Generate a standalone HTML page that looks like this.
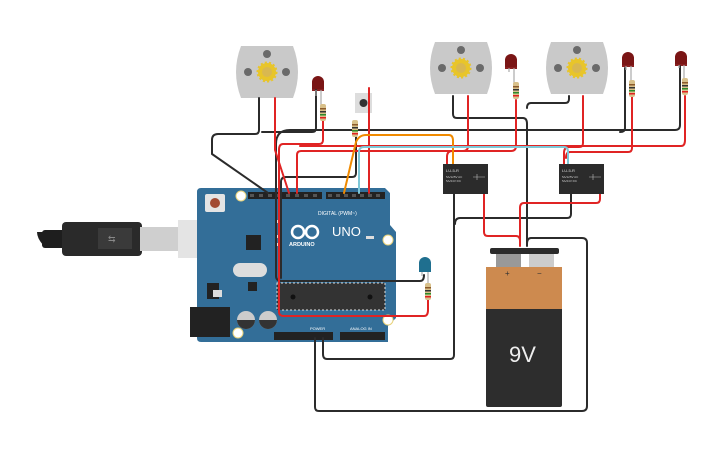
<!DOCTYPE html>
<html><head><meta charset="utf-8"><style>
html,body{margin:0;padding:0;background:#fff;width:725px;height:453px;overflow:hidden}
svg{display:block}
text{font-family:"Liberation Sans",sans-serif}
</style></head><body>
<svg width="725" height="453" viewBox="0 0 725 453" xmlns="http://www.w3.org/2000/svg">
<defs>
<g id="motor">
<path d="M8,0 H60 Q70,26 60,52 H8 Q-2,26 8,0Z" fill="#c9c9c9"/>
<circle cx="34" cy="8" r="4" fill="#6a6a6a"/>
<circle cx="15" cy="26" r="4" fill="#6a6a6a"/>
<circle cx="53" cy="26" r="4" fill="#6a6a6a"/>
<circle cx="34" cy="26" r="9" fill="#e8c52a" stroke="#e8c52a" stroke-width="3" stroke-dasharray="2 2"/>
<circle cx="34" cy="26" r="5" fill="#d9b850"/>
</g>
<g id="res">
<rect x="-3" y="0" width="6" height="17" rx="2" fill="#d8c08a"/>
<rect x="-3" y="4" width="6" height="1.5" fill="#8b5a2b"/>
<rect x="-3" y="7" width="6" height="1.5" fill="#333"/>
<rect x="-3" y="10" width="6" height="1.5" fill="#2a8a2a"/>
<rect x="-3" y="13" width="6" height="1.5" fill="#e02020"/>
</g>
<g id="led">
<path d="M-6,10 V2 A6,6 0 0 1 6,2 V10Z" fill="#7a1515"/>
<rect x="-6" y="9" width="12" height="2" fill="#8a2020"/>
</g>
<g id="relay">
<rect x="0" y="0" width="45" height="30" fill="#2b2b2b"/>
<text x="3" y="8" font-size="4" fill="#ddd">LU-5-R</text>
<text x="3" y="14" font-size="3" fill="#ccc">5A/125V AC</text>
<text x="3" y="18" font-size="3" fill="#ccc">5A/24V DC</text>
<path d="M30,13 H42 M34,10 V16" stroke="#bbb" stroke-width="0.6"/>
</g>
</defs>

<!-- USB cable -->
<path d="M37,232 Q37,238 43,245 L60,245 V232Z" fill="#1e1e1e"/>
<rect x="42" y="230" width="25" height="18" rx="3" fill="#1e1e1e"/>
<rect x="62" y="222" width="80" height="34" rx="4" fill="#2a2a2a"/>
<rect x="98" y="228" width="34" height="21" fill="#3a3a3a"/>
<text x="108" y="242" font-size="9" fill="#888">⇆</text>
<rect x="140" y="227" width="38" height="24" fill="#cfcfcf"/>
<rect x="178" y="220" width="52" height="38" fill="#e4e4e4"/>

<!-- Arduino board -->
<path d="M201,188 H385 L390,193 V225 L396,232 V318 L388,326 V342 H201 Q197,342 197,338 V192 Q197,188 201,188Z" fill="#336e98"/>
<rect x="205" y="194" width="20" height="18" rx="2" fill="#e4e4e4"/>
<circle cx="215" cy="203" r="5" fill="#a24a32"/>
<circle cx="241" cy="196" r="5" fill="#fff" stroke="#e8d27a"/>
<circle cx="388" cy="240" r="5" fill="#fff" stroke="#e8d27a"/>
<circle cx="388" cy="320" r="5" fill="#fff" stroke="#e8d27a"/>
<circle cx="238" cy="333" r="5" fill="#fff" stroke="#e8d27a"/>
<rect x="246" y="235" width="15" height="15" fill="#222"/>
<rect x="233" y="263" width="34" height="14" rx="7" fill="#ddd"/>
<rect x="248" y="282" width="9" height="9" fill="#222"/>
<rect x="207" y="283" width="12" height="16" fill="#222"/>
<rect x="213" y="290" width="9" height="7" fill="#ddd"/>
<rect x="190" y="307" width="40" height="30" fill="#222"/>
<circle cx="246" cy="320" r="9" fill="#ccc"/><path d="M237,320 A9,9 0 0 0 255,320Z" fill="#333"/>
<circle cx="268" cy="320" r="9" fill="#ccc"/><path d="M259,320 A9,9 0 0 0 277,320Z" fill="#333"/>
<rect x="277" y="283" width="108" height="27" fill="#333" stroke="#ddd" stroke-dasharray="2 2" stroke-width="1"/>
<circle cx="293" cy="297" r="2.5" fill="#111"/><circle cx="370" cy="297" r="2.5" fill="#111"/>
<rect x="248" y="192" width="74" height="7" fill="#222"/>
<rect x="326" y="192" width="59" height="7" fill="#222"/>
<rect x="274" y="332" width="59" height="8" fill="#222"/>
<rect x="340" y="332" width="45" height="8" fill="#222"/>
<g fill="#555"><rect x="250" y="194" width="4" height="3"/><rect x="259" y="194" width="4" height="3"/><rect x="268" y="194" width="4" height="3"/><rect x="277" y="194" width="4" height="3"/><rect x="286" y="194" width="4" height="3"/><rect x="295" y="194" width="4" height="3"/><rect x="304" y="194" width="4" height="3"/><rect x="313" y="194" width="4" height="3"/>
<rect x="328" y="194" width="4" height="3"/><rect x="336" y="194" width="4" height="3"/><rect x="344" y="194" width="4" height="3"/><rect x="352" y="194" width="4" height="3"/><rect x="360" y="194" width="4" height="3"/><rect x="368" y="194" width="4" height="3"/><rect x="376" y="194" width="4" height="3"/></g>
<text x="318" y="215" font-size="5" fill="#fff">DIGITAL (PWM~)</text>
<text x="289" y="246" font-size="5.5" font-weight="bold" fill="#fff">ARDUINO</text>
<text x="332" y="236" font-size="13" fill="#fff">UNO</text>
<circle cx="298" cy="232" r="6" fill="none" stroke="#fff" stroke-width="2.5"/>
<circle cx="312" cy="232" r="6" fill="none" stroke="#fff" stroke-width="2.5"/>
<rect x="366" y="236" width="8" height="3" fill="#ddd"/>
<rect x="275" y="220" width="6" height="3" fill="#ddd"/><rect x="275" y="235" width="6" height="3" fill="#ddd"/><rect x="275" y="243" width="6" height="3" fill="#ddd"/>
<text x="310" y="330" font-size="4" fill="#fff">POWER</text>
<text x="350" y="330" font-size="4" fill="#fff">ANALOG IN</text>

<!-- Battery -->
<rect x="490" y="248" width="69" height="6" rx="2" fill="#2b2b2b"/>
<rect x="496" y="254" width="25" height="13" fill="#999"/>
<rect x="529" y="254" width="25" height="13" fill="#ccc"/>
<rect x="486" y="267" width="76" height="42" fill="#cd8a4f"/>
<path d="M486,309 H562 V405 Q562,407 560,407 H488 Q486,407 486,405Z" fill="#2d2d2d"/>
<text x="505" y="276" font-size="8" fill="#333">+</text>
<text x="537" y="276" font-size="8" fill="#333">−</text>
<text x="509" y="362" font-size="22" fill="#eee">9V</text>

<!-- Motors, LEDs, button -->
<use href="#motor" x="233" y="46"/>
<use href="#motor" x="427" y="42"/>
<use href="#motor" x="543" y="42"/>
<rect x="355" y="93" width="17" height="20" fill="#ddd"/>
<circle cx="363.5" cy="103" r="4" fill="#333"/>
<use href="#led" x="318" y="80"/>
<use href="#led" x="511" y="58"/>
<use href="#led" x="628" y="56"/>
<use href="#led" x="681" y="55"/>
<path d="M419,272 V263 A6,6 0 0 1 431,263 V272Z" fill="#1f6f8f"/>

<!-- Wires -->
<g fill="none" stroke-width="2" stroke-linejoin="round" stroke-linecap="round">
<g stroke="#2b2b2b">
<path d="M259,98 V130 Q259,134 255,134 H218 Q212,134 212,140 V154 L268,193"/>
<path d="M316,90 V128 Q316,132 312,132 H262"/>
<path d="M680,66 V125 Q680,130 675,130 H290 Q276,130 276,144 V276 Q276,281 282,281 H420 Q424,281 424,275"/>
<path d="M625,68 V128 Q625,132 620,132"/>
<path d="M356,135 V173 Q356,177 352,177 H286 Q281,177 281,182 V278"/>
<path d="M453,96 V114 Q453,118 457,118 H523 Q527,118 527,124 V246"/>
<path d="M569,96 V99 Q569,103 565,103 H531 Q527,103 527,108"/>
<path d="M454,194 V355 Q454,359 450,359 H327 Q323,359 323,354 V338"/>
<path d="M571,194 V214 Q571,218 567,218 H460 Q455,218 455,224"/>
<path d="M315,338 V407 Q315,411 319,411 H582 Q587,411 587,406 V243 Q587,238 582,238 H531 Q527,238 527,244"/>
</g>
<g stroke="#e02424">
<path d="M275,98 V150 L289,193"/>
<path d="M323,120 V140 Q323,144 319,144 H283 Q279,144 279,150 V312 Q279,316 284,316 H424 Q428,316 428,310 V300"/>
<path d="M297,193 V155 Q297,151 301,151 H511 Q516,151 516,146 V100"/>
<path d="M300,146 H681 Q685,146 685,140 V96"/>
<path d="M369,88 V193"/>
<path d="M468,96 V146 Q468,151 463,151 H452 Q447,151 447,157 V165"/>
<path d="M583,96 V143 Q583,147 579,147 H569 Q564,147 564,153 V165"/>
<path d="M632,97 V148 Q632,152 628,152 H570 Q566,152 566,158"/>
<path d="M484,194 V232 Q484,236 488,236 H516 Q520,236 520,241 V246"/>
<path d="M600,194 V199 Q600,203 596,203 H524 Q520,203 520,208 V240"/>
</g>
<path stroke="#f08a00" d="M344,193 L356,142 Q359,135 366,135 H449 Q453,135 453,141 V165"/>
<path stroke="#7ec8d8" d="M359,193 V152 Q359,147 364,147 H564 Q568,147 568,152 V165"/>
</g>
<g stroke="#aaa" stroke-width="1.2" fill="none">
<path d="M316,90 V96 M321,90 V105"/>
<path d="M509,68 V72 M514,68 V84"/>
<path d="M626,66 V70 M631,66 V82"/>
<path d="M679,65 V68 M684,65 V80"/>
<path d="M422,272 V276 M428,272 V285"/>
</g>
<use href="#res" x="323" y="104"/>
<use href="#res" x="355" y="120"/>
<use href="#res" x="516" y="82"/>
<use href="#res" x="632" y="80"/>
<use href="#res" x="685" y="78"/>
<use href="#res" x="428" y="283"/>
<use href="#relay" x="443" y="164"/>
<use href="#relay" x="559" y="164"/>
</svg>
</body></html>
